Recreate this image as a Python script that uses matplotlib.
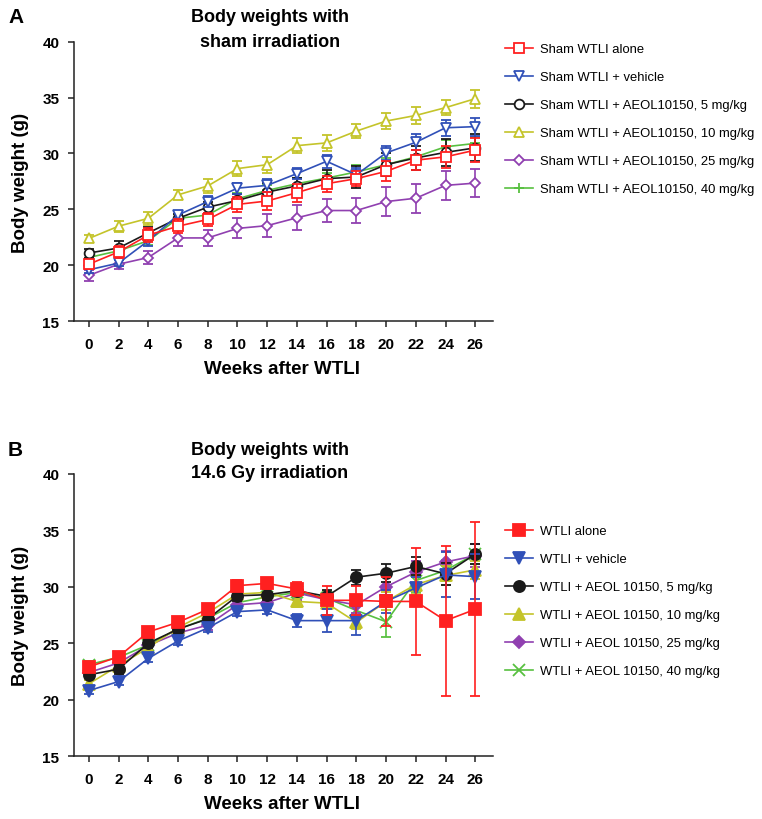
import matplotlib
matplotlib.use("Agg")
import matplotlib.pyplot as plt

plt.rcParams['font.family'] = ['Liberation Sans', 'DejaVu Sans']

# Weeks after WTLI
weeks = [0, 2, 4, 6, 8, 10, 12, 14, 16, 18, 20, 22, 24, 26]

# Panel A: sham irradiation (mean, error)
sham_alone = [20.1, 21.2, 22.7, 23.5, 24.1, 25.45, 25.75, 26.5, 27.3, 27.75, 28.4, 29.4, 29.7, 30.3]
sham_alone_err = [0.4, 0.5, 0.6, 0.6, 0.6, 0.7, 0.8, 0.8, 0.7, 0.7, 0.9, 0.9, 1.0, 1.1]
sham_vehicle = [19.6, 20.2, 22.2, 24.5, 25.7, 26.9, 27.15, 28.2, 29.3, 28.1, 30.05, 31.0, 32.3, 32.4]
sham_vehicle_err = [0.3, 0.3, 0.5, 0.4, 0.5, 0.5, 0.6, 0.5, 0.6, 0.6, 0.6, 0.7, 0.7, 0.8]
sham_5 = [21.1, 21.55, 22.9, 24.2, 25.2, 25.8, 26.55, 27.1, 27.75, 27.9, 29.0, 29.6, 30.1, 30.5]
sham_5_err = [0.4, 0.6, 0.5, 0.4, 0.5, 0.6, 0.8, 0.7, 0.8, 1.0, 1.0, 1.1, 1.2, 1.2]
sham_10 = [22.4, 23.5, 24.2, 26.3, 27.1, 28.65, 29.0, 30.7, 30.95, 32.0, 32.9, 33.4, 34.1, 34.9]
sham_10_err = [0.3, 0.5, 0.6, 0.4, 0.6, 0.7, 0.7, 0.7, 0.7, 0.6, 0.7, 0.8, 0.7, 0.8]
sham_25 = [19.1, 20.1, 20.7, 22.45, 22.45, 23.3, 23.55, 24.25, 24.9, 24.9, 25.7, 26.0, 27.15, 27.35]
sham_25_err = [0.5, 0.4, 0.6, 0.7, 0.7, 0.9, 1.0, 1.1, 1.0, 1.1, 1.3, 1.3, 1.3, 1.25]
sham_40 = [20.7, 21.3, 22.2, 24.2, 24.5, 25.95, 26.7, 27.3, 27.8, 28.35, 29.0, 29.7, 30.6, 30.9]
sham_40_err = [0.3, 0.3, 0.4, 0.4, 0.5, 0.5, 0.5, 0.5, 0.5, 0.6, 0.6, 0.6, 0.6, 0.6]

# Panel B: 14.6 Gy irradiation (mean, error)
wtli_alone = [22.9, 23.8, 26.0, 26.85, 28.0, 30.1, 30.3, 29.8, 28.8, 28.8, 28.7, 28.7, 27.0, 28.0]
wtli_alone_err = [0.4, 0.4, 0.4, 0.4, 0.5, 0.5, 0.5, 0.6, 1.3, 1.3, 2.2, 4.75, 6.65, 7.7]
wtli_vehicle = [20.8, 21.6, 23.65, 25.2, 26.35, 27.8, 27.95, 27.0, 27.0, 27.0, 28.7, 29.9, 31.05, 30.9]
wtli_vehicle_err = [0.3, 0.3, 0.3, 0.4, 0.4, 0.4, 0.4, 0.6, 1.0, 1.3, 1.0, 1.0, 2.0, 2.0]
wtli_5 = [22.2, 22.7, 25.0, 26.25, 27.15, 29.2, 29.3, 29.65, 29.15, 30.85, 31.2, 31.8, 31.15, 32.9]
wtli_5_err = [0.3, 0.4, 0.4, 0.4, 0.4, 0.5, 0.5, 0.5, 0.6, 0.65, 0.8, 0.8, 1.0, 0.9]
wtli_10 = [21.4, 23.0, 24.6, 26.4, 27.7, 29.35, 29.5, 28.7, 28.55, 26.85, 28.7, 30.2, 31.0, 31.5]
wtli_10_err = [0.3, 0.3, 0.4, 0.4, 0.4, 0.5, 0.5, 0.5, 0.5, 0.6, 0.8, 0.8, 0.8, 0.8]
wtli_25 = [22.4, 23.25, 24.8, 25.9, 26.6, 28.4, 28.6, 29.45, 28.85, 28.4, 30.0, 31.3, 32.2, 32.75]
wtli_25_err = [0.3, 0.3, 0.4, 0.4, 0.4, 0.4, 0.5, 0.6, 0.6, 0.7, 1.0, 1.0, 1.0, 1.0]
wtli_40 = [23.1, 23.75, 24.85, 26.25, 27.2, 28.6, 29.1, 29.5, 29.0, 27.9, 26.9, 30.55, 31.45, 32.9]
wtli_40_err = [0.3, 0.3, 0.3, 0.3, 0.4, 0.4, 0.5, 0.5, 0.6, 0.6, 1.35, 1.0, 0.9, 0.9]

labels_a = ["Sham WTLI alone", "Sham WTLI + vehicle", "Sham WTLI + AEOL10150, 5 mg/kg",
            "Sham WTLI + AEOL10150, 10 mg/kg", "Sham WTLI + AEOL10150, 25 mg/kg",
            "Sham WTLI + AEOL10150, 40 mg/kg"]
labels_b = ["WTLI alone", "WTLI + vehicle", "WTLI + AEOL 10150, 5 mg/kg",
            "WTLI + AEOL 10150, 10 mg/kg", "WTLI + AEOL 10150, 25 mg/kg",
            "WTLI + AEOL 10150, 40 mg/kg"]

colors = ["#ff2020", "#3050b8", "#1a1a1a", "#c4c42a", "#9040b0", "#58c040"]
zorders = [8, 7, 6, 5, 4, 3]

fig = plt.figure(figsize=(7.62, 8.2), dpi=100)
ax_a = fig.add_axes([0.0971, 0.607, 0.550, 0.341])
ax_b = fig.add_axes([0.0971, 0.0768, 0.550, 0.344])


def draw_panel(ax, series, errors, labels, markers, filled, legend_top, spacing):
    handles = []
    for y, e, lab, m, c, z in zip(series, errors, labels, markers, colors, zorders):
        ms = 7 if not filled else 8
        if m == 'D':
            ms -= 2
        face = c if filled else 'white'
        if m in ('+', 'x'):
            face = c
        h = ax.errorbar(weeks, y, yerr=e, color=c, lw=1.2, marker=m, ms=ms,
                        mfc=face, mec=c, mew=1.3, capsize=3.5, capthick=1.2,
                        elinewidth=1.2, label=lab, zorder=z)
        handles.append(h[0])
    ax.set_xlim(-1, 27.2)
    ax.set_ylim(15, 40)
    ax.set_xticks(weeks)
    ax.set_yticks([15, 20, 25, 30, 35, 40])
    for s in ['top', 'right']:
        ax.spines[s].set_visible(False)
    for s in ['left', 'bottom']:
        ax.spines[s].set_linewidth(1.1)
        ax.spines[s].set_color('#222222')
    ax.tick_params(axis='both', direction='out', length=4.5, width=1.1, color='#222222')
    ax.tick_params(axis='x', pad=7, labelsize=11)
    ax.tick_params(axis='y', pad=6, labelsize=11)
    for t in ax.get_xticklabels() + ax.get_yticklabels():
        t.set_fontweight('bold')
    ax.set_xlabel("Weeks after WTLI", fontsize=13.5, fontweight='bold', va='top')
    ax.set_ylabel("Body weight (g)", fontsize=13.5, fontweight='bold')
    ax.xaxis.set_label_coords(0.496, -0.138)
    ax.yaxis.set_label_coords(-0.108, 0.5)
    ax.legend(handles=handles, labels=labels, loc='upper left',
              bbox_to_anchor=(0.663, legend_top), bbox_transform=fig.transFigure,
              frameon=False, fontsize=9.4, handlelength=2.1, handletextpad=0.55,
              labelspacing=spacing, borderpad=0, borderaxespad=0)


draw_panel(ax_a,
           [sham_alone, sham_vehicle, sham_5, sham_10, sham_25, sham_40],
           [sham_alone_err, sham_vehicle_err, sham_5_err, sham_10_err, sham_25_err, sham_40_err],
           labels_a, ['s', 'v', 'o', '^', 'D', '+'], False, 1 - 44 / 820, 1.22)
draw_panel(ax_b,
           [wtli_alone, wtli_vehicle, wtli_5, wtli_10, wtli_25, wtli_40],
           [wtli_alone_err, wtli_vehicle_err, wtli_5_err, wtli_10_err, wtli_25_err, wtli_40_err],
           labels_b, ['s', 'v', 'o', '^', 'D', 'x'], True, 1 - 526 / 820, 1.22)

# Titles and panel letters
fig.text(0.354, 1 - 9 / 820, "Body weights with\nsham irradiation", ha='center', va='top',
         fontsize=13, fontweight='bold', linespacing=1.6)
fig.text(0.354, 1 - 442 / 820, "Body weights with\n14.6 Gy irradiation", ha='center', va='top',
         fontsize=13, fontweight='bold', linespacing=1.45)
fig.text(8 / 762, 1 - 8 / 820, "A", ha='left', va='top', fontsize=15, fontweight='bold')
fig.text(8 / 762, 1 - 441 / 820, "B", ha='left', va='top', fontsize=15, fontweight='bold')

fig.savefig("out.png", dpi=100)
